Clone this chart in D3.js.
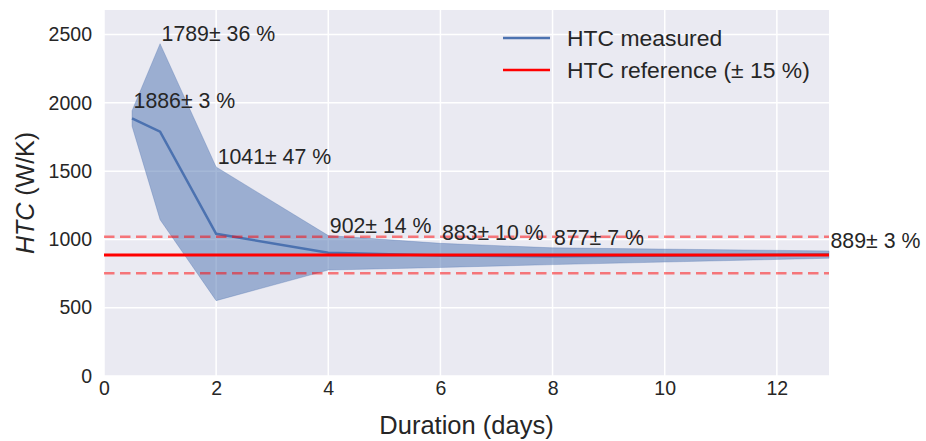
<!DOCTYPE html>
<html><head><meta charset="utf-8">
<script src="https://cdn.jsdelivr.net/npm/d3@7"></script>
<style>body{margin:0;background:#fff}svg{display:block}text{font-family:"Liberation Sans",Arial,sans-serif;fill:#262626}</style>
</head><body><svg id="c" width="926" height="441"></svg>
<script>
const durations = [0.5, 1, 2, 4, 6, 8, 12.93];
const htcMeasured = [1886, 1789, 1041, 902, 883, 877, 889];
const uncertaintyPct = [3, 36, 47, 14, 10, 7, 3];
const htcReference = 886;
const referenceTolPct = 15;
const xTicks = [0, 2, 4, 6, 8, 10, 12];
const yTicks = [0, 500, 1000, 1500, 2000, 2500];
const legendLabels = ["HTC measured", "HTC reference (\u00b1 15 %)"];

const data = durations.map((d, i) => ({x: d, v: htcMeasured[i], p: uncertaintyPct[i],
  lo: htcMeasured[i] * (1 - uncertaintyPct[i] / 100), hi: htcMeasured[i] * (1 + uncertaintyPct[i] / 100)}));

const svg = d3.select("#c");
const m = {l: 104, r: 829, t: 10, b: 376};
const x = d3.scaleLinear().domain([0, d3.max(durations)]).range([m.l, m.r]);
const y = d3.scaleLinear().domain([0, 2680]).range([m.b, m.t]);

svg.append("rect").attr("x", m.l).attr("y", m.t).attr("width", m.r - m.l).attr("height", m.b - m.t).attr("fill", "#EAEAF2");
const g = svg.append("g");
g.selectAll(".gx").data(xTicks).join("line").attr("x1", d => x(d)).attr("x2", d => x(d)).attr("y1", m.t).attr("y2", m.b).attr("stroke", "#fff").attr("stroke-width", 1.5);
g.selectAll(".gy").data(yTicks).join("line").attr("y1", d => y(d)).attr("y2", d => y(d)).attr("x1", m.l).attr("x2", m.r).attr("stroke", "#fff").attr("stroke-width", 1.5);

const xa = svg.append("g").attr("transform", `translate(0,${m.b})`).call(d3.axisBottom(x).tickValues(xTicks).tickSize(0).tickPadding(8).tickFormat(d3.format("d")));
xa.select(".domain").remove();
xa.selectAll("text").attr("font-size", 19.5).attr("fill", "#262626").attr("dy", "0.71em").attr("y", 5);
const ya = svg.append("g").attr("transform", `translate(${m.l},0)`).call(d3.axisLeft(y).tickValues(yTicks).tickSize(0).tickPadding(12).tickFormat(d3.format("d")));
ya.select(".domain").remove();
ya.selectAll("text").attr("font-size", 19.5).attr("fill", "#262626");

const area = d3.area().x(d => x(d.x)).y0(d => y(d.lo)).y1(d => y(d.hi));
svg.append("path").datum(data).attr("d", area).attr("fill", "#4C72B0").attr("fill-opacity", 0.5).attr("stroke", "#4C72B0").attr("stroke-opacity", 0.3).attr("stroke-width", 1);
svg.append("path").datum(data).attr("d", d3.line().x(d => x(d.x)).y(d => y(d.v))).attr("fill", "none").attr("stroke", "#4C72B0").attr("stroke-width", 2.5);
[htcReference * (1 + referenceTolPct / 100), htcReference * (1 - referenceTolPct / 100)].forEach(v => {
  svg.append("line").attr("x1", m.l).attr("x2", m.r).attr("y1", y(v)).attr("y2", y(v)).attr("stroke", "red").attr("stroke-opacity", 0.5).attr("stroke-width", 2.5).attr("stroke-dasharray", "10.5,5.5");
});
svg.append("line").attr("x1", m.l).attr("x2", m.r).attr("y1", y(htcReference)).attr("y2", y(htcReference)).attr("stroke", "red").attr("stroke-width", 3);

svg.selectAll(".ann").data(data).join("text").attr("x", d => x(d.x) + 1.5).attr("y", d => y(d.hi) - 3).attr("font-size", 21.3)
  .text(d => `${d.v}\u00b1 ${d.p} %`);

svg.append("text").attr("x", (m.l + m.r) / 2).attr("y", 434).attr("text-anchor", "middle").attr("font-size", 25.5).text("Duration (days)");
const yl = svg.append("text").attr("transform", `translate(34,${(m.t + m.b) / 2}) rotate(-90)`).attr("text-anchor", "middle").attr("font-size", 25);
yl.append("tspan").attr("font-style", "italic").text("HTC");
yl.append("tspan").text(" (W/K)");

const lg = svg.append("g");
const lc = ["#4C72B0", "red"];
legendLabels.forEach((t, i) => {
  const ly = 38 + i * 32;
  lg.append("line").attr("x1", 503).attr("x2", 550).attr("y1", ly).attr("y2", ly).attr("stroke", lc[i]).attr("stroke-width", 2.5);
  lg.append("text").attr("x", 567).attr("y", ly + 8).attr("font-size", 22.9).text(t);
});
</script></body></html>
